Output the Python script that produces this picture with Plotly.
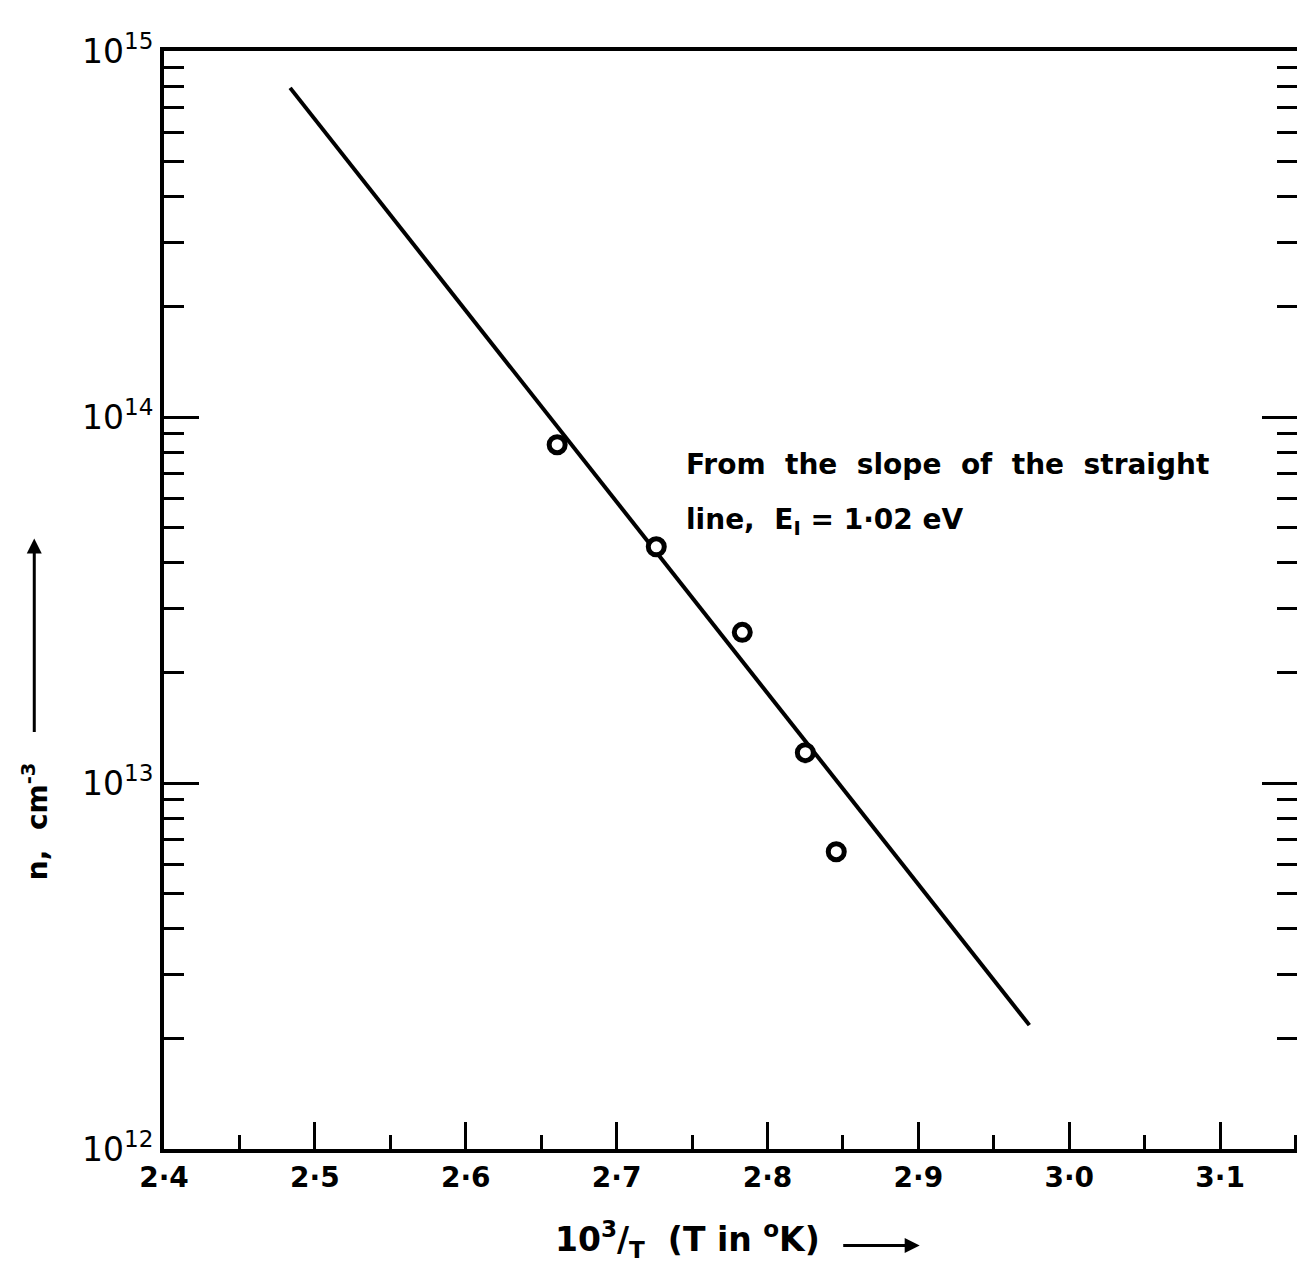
import numpy as np
import plotly.graph_objects as go

# measured points: 10^3/T and carrier density n (cm^-3)
inv_T = [2.6606, 2.7263, 2.7833, 2.8251, 2.8456]
n_cm3 = [8.4e13, 4.42e13, 2.58e13, 1.21e13, 6.49e12]

# straight line drawn through the points (end points)
fit_x = [2.4836, 2.9736]
fit_n = [7.93e14, 2.18e12]

x_ticks = [2.4, 2.5, 2.6, 2.7, 2.8, 2.9, 3.0, 3.1]
x_labels = ["2·4", "2·5", "2·6", "2·7", "2·8", "2·9", "3·0", "3·1"]
y_ticks = [1e12, 1e13, 1e14, 1e15]
y_labels = ["10<sup>12</sup>", "10<sup>13</sup>", "10<sup>14</sup>", "10<sup>15</sup>"]

FONT = "DejaVu Sans"

fig = go.Figure()
fig.add_trace(go.Scatter(x=fit_x, y=fit_n, mode="lines",
                         line=dict(color="black", width=4), showlegend=False))
fig.add_trace(go.Scatter(x=inv_T, y=n_cm3, mode="markers",
                         marker=dict(symbol="circle", size=16, color="white",
                                     line=dict(color="black", width=5)),
                         showlegend=False))

fig.update_layout(
    width=1305, height=1271,
    margin=dict(l=156, r=16, t=43, b=130, autoexpand=False),
    plot_bgcolor="white", paper_bgcolor="white",
    font=dict(family=FONT, color="black"),
)

fig.update_xaxes(range=[2.4, 3.151], showgrid=False, zeroline=False, automargin=False,
                 showline=True, linecolor="black", linewidth=4, mirror=True,
                 tickvals=x_ticks, ticktext=x_labels,
                 ticks="inside", ticklen=27, tickwidth=3, tickcolor="black",
                 tickfont=dict(family=FONT, size=28, weight="bold"),
                 minor=dict(dtick=0.05, ticks="inside", ticklen=14, tickwidth=3,
                            tickcolor="black", showgrid=False))

fig.update_yaxes(type="log", range=[12, 15], showgrid=False, zeroline=False, automargin=False,
                 showline=True, linecolor="black", linewidth=4, mirror="ticks",
                 tickvals=y_ticks, ticktext=y_labels,
                 ticks="inside", ticklen=35, tickwidth=3, tickcolor="black",
                 tickfont=dict(family=FONT, size=33),
                 minor=dict(dtick="D1", ticks="inside", ticklen=20, tickwidth=3,
                            tickcolor="black", showgrid=False))

# note on the slope
fig.add_annotation(x=2.745, y=13.92, xref="x", yref="y", xanchor="left", yanchor="top",
                   text="From  the  slope  of  the  straight", showarrow=False,
                   font=dict(family=FONT, size=28, weight="bold"))
fig.add_annotation(x=2.745, y=13.77, xref="x", yref="y", xanchor="left", yanchor="top",
                   text="line,  E<sub>I</sub> = 1·02 eV", showarrow=False,
                   font=dict(family=FONT, size=28, weight="bold"))

# axis titles with arrows
fig.add_annotation(x=0.462, y=-0.106, xref="paper", yref="paper", yanchor="bottom",
                   text="10<sup>3</sup>/<sub>T</sub>  (T in <sup>o</sup>K)", showarrow=False,
                   font=dict(family=FONT, size=33, weight="bold"))
fig.add_annotation(x=0.667, y=-0.088, xref="paper", yref="paper", text="",
                   showarrow=True, ax=-78, ay=0, arrowhead=2, arrowsize=1,
                   arrowwidth=3, arrowcolor="black")
fig.add_annotation(x=-0.132, y=0.243, xref="paper", yref="paper", textangle=-90,
                   text="n,  cm<sup>-3</sup>", showarrow=False,
                   font=dict(family=FONT, size=28, weight="bold"))
fig.add_annotation(x=-0.1145, y=0.556, xref="paper", yref="paper", text="",
                   showarrow=True, ax=0, ay=195, arrowhead=2, arrowsize=1,
                   arrowwidth=3, arrowcolor="black")

fig.write_html("out.html")
